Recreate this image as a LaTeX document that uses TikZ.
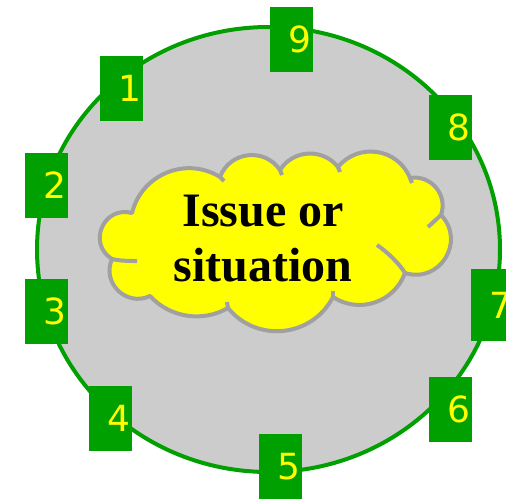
\documentclass[tikz,border=0pt]{standalone}
\usepackage{fontspec}
\setmainfont{Liberation Serif}
\newfontfamily\digitfont{DejaVu Sans}
\definecolor{ringgreen}{RGB}{0,160,0}
\definecolor{ringgray}{RGB}{204,204,204}
\definecolor{cloudedge}{RGB}{160,160,160}
\definecolor{cloudfill}{RGB}{255,255,0}

\begin{document}
\begin{tikzpicture}[
    x=1pt, y=-1pt,
    numbox/.style={
        fill=ringgreen, minimum width=43pt, minimum height=65pt,
        text width=39pt, inner xsep=2pt, inner ysep=0pt,
        align=right, text=cloudfill,
        font=\digitfont\fontsize{36}{36}\selectfont
    },
    cloudline/.style={
        draw=cloudedge, line width=4pt, line join=round
    },
    issuetext/.style={
        align=center, font=\bfseries\fontsize{48}{55}\selectfont
    }
]
\useasboundingbox (0,0) rectangle (506,498);

% ----------------------------------------------------------
% Ring: grey disc with green rim
% ----------------------------------------------------------
\draw[ringgreen, line width=4pt, fill=ringgray]
    (268.5,249.5) ellipse [x radius=231.5pt, y radius=222.5pt];

% ----------------------------------------------------------
% Centre: cloud, cusps cA ... cK clockwise
% ----------------------------------------------------------
\coordinate (cA) at (132,213);
\coordinate (cB) at (220,177);
\coordinate (cC) at (280,170);
\coordinate (cD) at (338,167);
\coordinate (cE) at (410,178);
\coordinate (cF) at (441,215);
\coordinate (cG) at (405,273);
\coordinate (cH) at (333,297);
\coordinate (cI) at (228,308);
\coordinate (cJ) at (150,296);
\coordinate (cK) at (112,259);

\draw[cloudline, fill=cloudfill]
    (cA) .. controls +(9.5,-38.8)   and +(-33.9,-21.0) .. (cB)
         .. controls +(9.8,-25.8)   and +(-15.4,-22.8) .. (cC)
         .. controls +(13.2,-20.6)  and +(-15.2,-19.2) .. (cD)
         .. controls +(20.4,-24.8)  and +(-12.0,-29.8) .. (cE)
         .. controls +(21.1,-3.5)   and +(7.1,-20.1)   .. (cF)
         .. controls +(25.2,26.3)   and +(34.8,10.9)   .. (cG)
         .. controls +(-10.6,29.4)  and +(26.0,17.2)   .. (cH)
         .. controls +(-20.8,40.4)  and +(28.8,35.2)   .. (cI)
         .. controls +(-25.6,14.7)  and +(20.0,21.7)   .. (cJ)
         .. controls +(-23.6,11.2)  and +(-10.6,24.0)  .. (cK)
         .. controls +(-25.1,-15.4) and +(-28.3,-7.8)  .. (cA)
    -- cycle;

% inner puff strokes
\draw[cloudline] (cK) .. controls +(9,2) and +(-8,0) .. (137,261);
\draw[cloudline] (cG) .. controls +(-6,-10) and +(9,6) .. (377,245);
\draw[cloudline] (cF) .. controls +(-4,4) and +(3,-3) .. (428,227);
\draw[cloudline] (cB) -- +(4,4);
\draw[cloudline] (cC) -- +(2,5);
\draw[cloudline] (cD) -- +(2,5);
\draw[cloudline] (cE) -- +(2,5);
\draw[cloudline] (cH) -- +(0,-6);
\draw[cloudline] (cI) -- +(-1,-6);

\node[issuetext] (issue) at (263,239) {Issue or\\situation};

% ----------------------------------------------------------
% Numbered boxes on the rim (1 ... 9)
% ----------------------------------------------------------
\node[numbox] (n1) at (121.5, 88.5) {1};
\node[numbox] (n2) at (46.5, 185.5) {2};
\node[numbox] (n3) at (46.5, 311.5) {3};
\node[numbox] (n4) at (110.5,418.5) {4};
\node[numbox] (n5) at (280.5,466.5) {5};
\node[numbox] (n6) at (450.5,409.5) {6};
\node[numbox, minimum height=72pt] (n7) at (492.5,305) {7};
\node[numbox] (n8) at (450.5,127.5) {8};
\node[numbox] (n9) at (291.5, 39.5) {9};

\end{tikzpicture}
\end{document}
